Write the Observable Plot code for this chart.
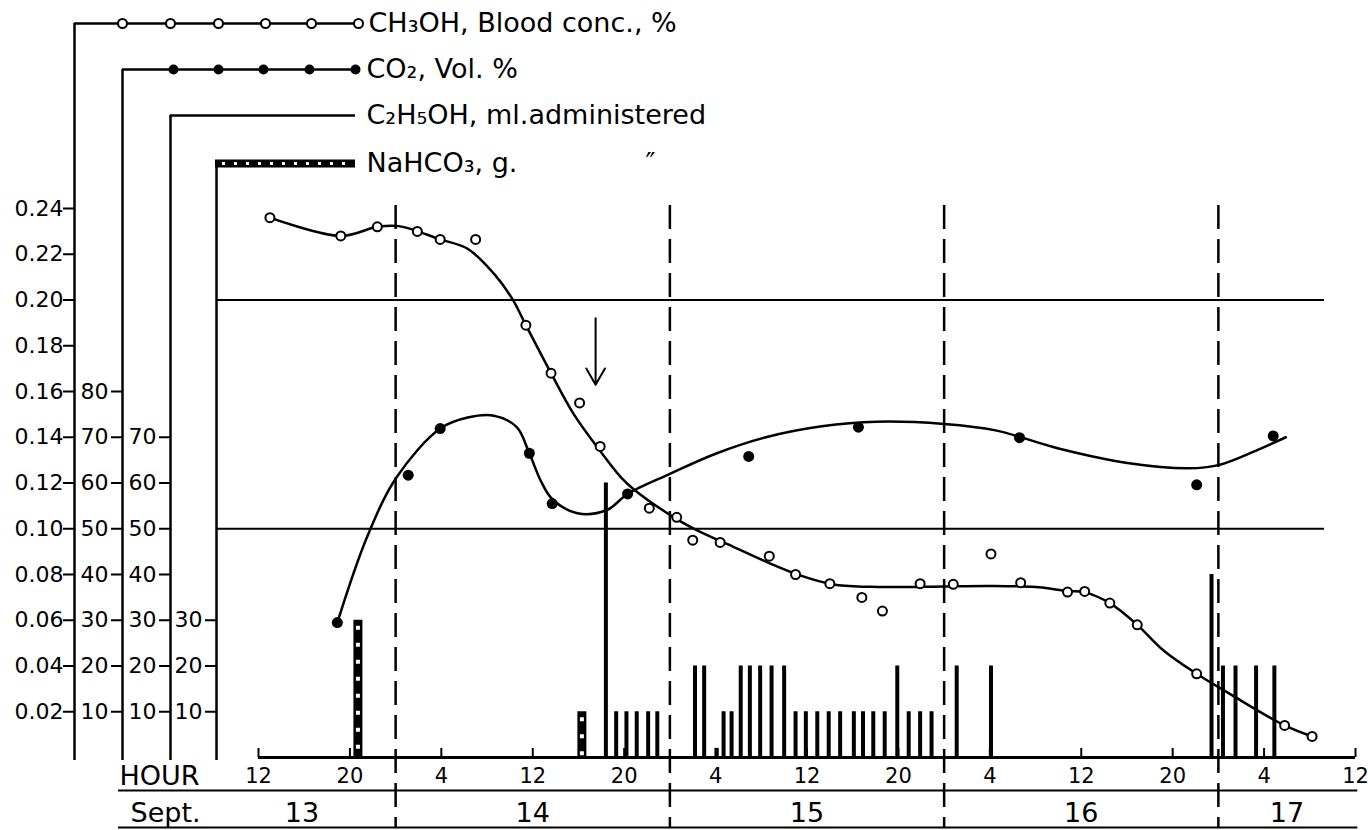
<!DOCTYPE html>
<html><head><meta charset="utf-8">
<script src="https://cdn.jsdelivr.net/npm/d3@7"></script>
<script src="https://cdn.jsdelivr.net/npm/@observablehq/plot@0.6"></script>
<style>
html,body{margin:0;padding:0;background:#fff;}
#chart svg{display:block;}
</style></head><body><div id="chart"></div>
<script>
// ================= DATA =================
// x: hours after Sept 13, 12:00
const hourTicks  = [0, 8, 16, 24, 32, 40, 48, 56, 64, 72, 80, 88, 96];
const hourLabels = ["12","20","4","12","20","4","12","20","4","12","20","4","12"];
const midnights  = [12, 36, 60, 84];
const dayLabels  = ["13","14","15","16","17"];
const dayLabelHours = [3.8, 24, 48, 72, 90];

// CH3OH blood concentration, %
const ch3ohHours = [1.0, 7.2, 10.4, 13.9, 15.9, 19.0, 23.4, 25.6, 28.1, 29.9, 34.2, 36.6, 38.0, 40.4, 44.7, 47.0, 50.0, 52.8, 54.6, 57.9, 60.8, 64.1, 66.7, 70.8, 72.3, 74.5, 76.9, 82.1, 89.8, 92.2];
const ch3ohPct   = [0.236, 0.228, 0.232, 0.230, 0.2265, 0.2265, 0.189, 0.168, 0.155, 0.136, 0.109, 0.105, 0.095, 0.094, 0.088, 0.080, 0.076, 0.070, 0.064, 0.076, 0.0757, 0.089, 0.0764, 0.0723, 0.0726, 0.0675, 0.058, 0.0366, 0.014, 0.0092];
// hand-drawn CH3OH curve
const ch3ohCurveHours = [1.0, 7.2, 10.4, 12.3, 15.9, 18.3, 20.6, 22.2, 23.4, 25.6, 27.6, 29.9, 31.7, 32.8, 36.6, 38.7, 41.6, 44.5, 47.4, 50.3, 53.5, 56.2, 60, 64, 68, 70.8, 72.3, 74.5, 76.9, 79.2, 82.1, 85.0, 89.8, 92.2];
const ch3ohCurvePct   = [0.236, 0.228, 0.232, 0.2323, 0.2265, 0.2224, 0.2115, 0.2006, 0.189, 0.168, 0.150, 0.134, 0.1226, 0.1174, 0.1042, 0.0985, 0.0920, 0.0854, 0.0796, 0.0756, 0.0746, 0.0745, 0.0748, 0.0750, 0.0745, 0.0728, 0.0722, 0.0675, 0.058, 0.0468, 0.0366, 0.0278, 0.014, 0.0092];

// CO2, vol. %
const co2Hours = [6.9, 13.1, 15.9, 23.7, 25.7, 32.3, 42.9, 52.5, 66.6, 82.1, 88.8];
const co2Vol   = [29.5, 61.7, 71.9, 66.5, 55.5, 57.6, 65.8, 72.2, 69.9, 59.6, 70.3];
const co2CurveHours = [6.9, 9.5, 12.1, 15.9, 18.3, 20.6, 22.6, 23.7, 24.7, 25.7, 27.9, 30.5, 32.3, 36.0, 40, 44.4, 49.3, 54.1, 60, 64.5, 70.1, 76.2, 81.4, 84, 87.4, 89.9];
const co2CurveVol   = [29.5, 48.2, 61.3, 71.9, 74.3, 74.7, 72.2, 66.5, 60.5, 56.5, 53.4, 54.1, 57.6, 62.0, 66.4, 70.0, 72.4, 73.4, 72.9, 71.5, 67.5, 64.3, 63.2, 63.9, 67.2, 70.0];

// C2H5OH, ml administered
const ethanolHours = [30.4, 31.3, 32.2, 33.1, 34.1, 34.9, 38.2, 39.0, 40.1, 40.7, 41.4, 42.2, 43.0, 43.9, 44.9, 46.0, 47.0, 47.9, 48.9, 49.9, 50.9, 52.1, 52.9, 53.8, 54.8, 55.9, 56.9, 57.9, 58.9, 61.1, 64.1, 83.4, 84.4, 85.5, 87.3, 88.9];
const ethanolMl    = [60, 10, 10, 10, 10, 10, 20, 20, 2, 10, 10, 20, 20, 20, 20, 20, 10, 10, 10, 10, 10, 10, 10, 10, 10, 20, 10, 10, 10, 20, 20, 40, 20, 20, 20, 20];

// NaHCO3, g administered
const sodaHours = [8.7, 28.3];
const sodaGrams = [30, 10];

const refLines = [0.10, 0.20];
const arrowHour = 29.5, arrowFrom = 0.192, arrowTo = 0.163;

// left axes
const pctTicks  = [0.02, 0.04, 0.06, 0.08, 0.10, 0.12, 0.14, 0.16, 0.18, 0.20, 0.22, 0.24];
const pctLabels = ["0.02","0.04","0.06","0.08","0.10","0.12","0.14","0.16","0.18","0.20","0.22","0.24"];
const co2Ticks  = [10, 20, 30, 40, 50, 60, 70, 80];
const ethTicks  = [10, 20, 30, 40, 50, 60, 70];
const sodaTicks = [10, 20, 30];
const legendLabels = ["CH₃OH, Blood conc., %", "CO₂, Vol. %", "C₂H₅OH, ml.administered", "NaHCO₃, g."];

// ================= LAYOUT =================
const W = 1368, H = 830;
const X0 = 258, PXH = 1097 / 96;      // hour 0 at px 258
const Y0 = 757, PXU = 2287.5;         // 0 % at px 757
const SEC = 0.002;                    // 10 units on secondary axes = 0.02 %
const X = px => (px - X0) / PXH;
const Y = py => (Y0 - py) / PXU;

const axesPx = [74, 122, 170, 216];
const legendRowPx = [23, 69, 115, 163];
const legendEndPx = [358, 355, 355, 355];
const legendTextPx = [368, 366, 366, 366];
const ch3ohLegendPx = [122, 170, 218, 265, 311, 358];
const co2LegendPx = [173, 218, 263, 309, 355];

const axes = axesPx.map((px, i) => ({px, top: legendRowPx[i], end: legendEndPx[i]}));
const tickRows = [
  ...pctTicks.map((v, i) => ({px: axesPx[0], v, label: pctLabels[i]})),
  ...co2Ticks.map(v => ({px: axesPx[1], v: v * SEC, label: String(v)})),
  ...ethTicks.map(v => ({px: axesPx[2], v: v * SEC, label: String(v)})),
  ...sodaTicks.map(v => ({px: axesPx[3], v: v * SEC, label: String(v)}))
];

const ch3oh = ch3ohHours.map((h, i) => ({h, v: ch3ohPct[i]}));
const ch3ohCurve = ch3ohCurveHours.map((h, i) => ({h, v: ch3ohCurvePct[i]}));
const co2 = co2Hours.map((h, i) => ({h, v: co2Vol[i] * SEC}));
const co2Curve = co2CurveHours.map((h, i) => ({h, v: co2CurveVol[i] * SEC}));
const ethanol = ethanolHours.map((h, i) => ({h, v: ethanolMl[i] * SEC, ml: ethanolMl[i]}));
const soda = sodaHours.map((h, i) => ({h, v: sodaGrams[i] * SEC}));
const hours = hourTicks.map((h, i) => ({h, label: hourLabels[i]}));
const days = dayLabelHours.map((h, i) => ({h, label: dayLabels[i]}));
const legend = legendLabels.map((t, i) => ({t, px: legendTextPx[i], py: legendRowPx[i]}));

const chart = Plot.plot({
  width: W, height: H,
  marginLeft: 0, marginRight: 0, marginTop: 0, marginBottom: 0,
  x: {type: "linear", domain: [X(0), X(W)], range: [0, W], axis: null},
  y: {type: "linear", domain: [Y(H), Y(0)], range: [H, 0], axis: null},
  style: {fontFamily: "DejaVu Sans, sans-serif", background: "white", color: "black"},
  marks: [
    // midnight dashed lines
    Plot.ruleX(midnights, {x: d => d, y1: Y(205), y2: Y(827), stroke: "black", strokeWidth: 2.5, strokeDasharray: "24,10"}),
    // reference lines
    Plot.ruleY(refLines, {y: d => d, x1: X(216), x2: X(1324), stroke: "black", strokeWidth: 2}),
    // left axis lines and legend connectors
    Plot.ruleX(axes, {x: d => X(d.px), y1: Y(760), y2: d => Y(d.top), stroke: "black", strokeWidth: 2.5}),
    Plot.ruleY(axes.slice(0, 3), {y: d => Y(d.top), x1: d => X(d.px), x2: d => X(d.end), stroke: "black", strokeWidth: 2.5}),
    Plot.ruleY([axes[3]], {y: d => Y(d.top), x1: d => X(d.px - 1), x2: d => X(d.end), stroke: "black", strokeWidth: 8}),
    Plot.ruleY([axes[3]], {y: d => Y(d.top), x1: d => X(d.px + 6), x2: d => X(d.end - 3), stroke: "white", strokeWidth: 3, strokeDasharray: "3,9"}),
    // legend samples
    Plot.dot(ch3ohLegendPx, {x: d => X(d), y: Y(legendRowPx[0]), r: 4.5, fill: "white", stroke: "black", strokeWidth: 2}),
    Plot.dot(co2LegendPx, {x: d => X(d), y: Y(legendRowPx[1]), r: 5, fill: "black"}),
    Plot.text(legend, {x: d => X(d.px), y: d => Y(d.py), text: "t", textAnchor: "start", fontSize: 27}),
    Plot.text(["″"], {x: X(650), y: Y(163), text: d => d, fontSize: 27}),
    // axis ticks and labels
    Plot.ruleY(tickRows, {y: "v", x1: d => X(d.px - 11), x2: d => X(d.px), stroke: "black", strokeWidth: 2}),
    Plot.text(tickRows, {x: d => X(d.px - (d.px === axesPx[0] ? 11 : 14)), y: "v", text: "label", textAnchor: "end", fontSize: 22}),
    // x axis
    Plot.ruleY([0], {x1: 0, x2: 96, stroke: "black", strokeWidth: 3}),
    Plot.ruleX(hours, {x: "h", y1: 0, y2: Y(748), stroke: "black", strokeWidth: 2}),
    Plot.text(hours, {x: "h", y: Y(776), text: "label", fontSize: 21}),
    Plot.text(["HOUR"], {x: X(119), y: Y(776), text: d => d, textAnchor: "start", fontSize: 27}),
    Plot.ruleY([Y(790), Y(827)], {y: d => d, x1: X(118), x2: 96.2, stroke: "black", strokeWidth: 2}),
    Plot.text(["Sept."], {x: X(130), y: Y(813), text: d => d, textAnchor: "start", fontSize: 27}),
    Plot.text(days, {x: "h", y: Y(813), text: "label", fontSize: 27}),
    // bars
    Plot.ruleX(soda, {x: "h", y1: 0, y2: "v", stroke: "black", strokeWidth: 9}),
    Plot.ruleX(soda, {x: "h", y1: "v", y2: 0, stroke: "white", strokeWidth: 4, strokeDasharray: "4,13", strokeDashoffset: -6}),
    Plot.ruleX(ethanol, {x: "h", y1: 0, y2: "v", stroke: "black", strokeWidth: d => 4}),
    // curves
    Plot.line(ch3ohCurve, {x: "h", y: "v", curve: "catmull-rom", stroke: "black", strokeWidth: 2.5}),
    Plot.line(co2Curve, {x: "h", y: "v", curve: "catmull-rom", stroke: "black", strokeWidth: 2.5}),
    // points
    Plot.dot(ch3oh, {x: "h", y: "v", r: 4.5, fill: "white", stroke: "black", strokeWidth: 2}),
    Plot.dot(co2, {x: "h", y: "v", r: 5.5, fill: "black"}),
    // arrow
    Plot.arrow([{h: arrowHour, a: arrowFrom, b: arrowTo}], {x1: "h", x2: "h", y1: "a", y2: "b", stroke: "black", strokeWidth: 2, headLength: 14})
  ]
});
document.getElementById("chart").appendChild(chart);
</script>
</body></html>
